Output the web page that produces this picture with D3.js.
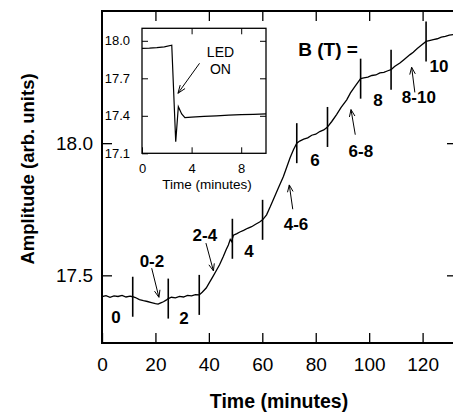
<!DOCTYPE html>
<meta charset="utf-8">
<script src="https://d3js.org/d3.v7.min.js"></script>
<style>
  body { margin: 0; background: #fff; font-family: "Liberation Sans", Arial, Helvetica, sans-serif; }
  svg { display: block; }
  .bold { font-weight: bold; }
</style>
<div id="chart"></div>
<script>

// main trace: time (minutes) and amplitude
var mainTime = [0,1.5,3,4.5,6,7.5,9,10.5,11.5,12.5,14,15.5,17,18.5,20,21,22,23,24,24.8,
  26,27.5,29,30.5,32,33.5,35,36.4,37.5,39,40.4,41.5,42.9,44,45.4,46.5,47.3,48.0,48.5,49.2,
  50.5,51.6,53,54.5,56,57.5,59,60.1,61.6,63,64.1,66,67.9,69,70.4,71.7,72.9,
  74,75.5,77,78.5,80,81.5,83,84.3,86,87.8,89.5,91.6,93,94.7,96.8,
  98,99.5,101,102.5,104,105.5,107,108.2,109.5,111.5,113,115.3,116.5,118,119.5,121.3,
  122.5,124,125.5,127,128.5,130,131.5,132.5]
var mainAmp = [17.419,17.423,17.417,17.422,17.420,17.424,17.418,17.421,17.419,17.416,17.408,17.404,17.401,17.397,17.393,17.391,17.396,17.400,17.406,17.412,
  17.417,17.415,17.420,17.418,17.424,17.422,17.427,17.426,17.436,17.452,17.476,17.495,17.520,17.540,17.571,17.598,17.615,17.636,17.628,17.652,
  17.658,17.664,17.670,17.678,17.684,17.693,17.702,17.710,17.729,17.760,17.786,17.830,17.874,17.905,17.945,17.976,18.000,
  18.008,18.015,18.020,18.030,18.034,18.044,18.050,18.060,18.082,18.108,18.135,18.164,18.190,18.215,18.244,
  18.247,18.250,18.256,18.258,18.266,18.268,18.274,18.278,18.290,18.303,18.316,18.335,18.344,18.358,18.370,18.385,
  18.388,18.392,18.395,18.401,18.404,18.409,18.411,18.413]

// times where the field was switched (vertical bars)
var markerTime = [11.5, 24.8, 36.4, 48.8, 60.1, 72.9, 84.4, 96.8, 108.2, 121.3]

// field labels
var fieldText = ["0","2","4","6","8","10"]
var fieldTime = [5.2, 30.7, 55.0, 79.7, 103.3, 126.1]
var fieldAmp = [17.320, 17.316, 17.571, 17.912, 18.142, 18.268]

// ramp labels and their arrows
var rampText = ["0-2","2-4","4-6","6-8","8-10"]
var rampTime = [18.7, 38.5, 72.6, 96.9, 118.6]
var rampAmp = [17.533, 17.631, 17.672, 17.947, 18.152]
var arrowFrom = [[18.6,17.527],[38.9,17.622],[71.4,17.750],[94.8,18.032],[117.1,18.192]]
var arrowTo = [[21.3,17.417],[41.7,17.517],[70.1,17.842],[93.2,18.127],[115.9,18.287]]

var xTicks = [0, 20, 40, 60, 80, 100, 120]
var yTicks = [17.5, 18.0]

// inset trace
var insetTime = [0,0.6,1.2,1.8,2.4,2.72,2.93,3.2,3.46,4,5,6,7,8,9,10]
var insetAmp = [17.940,17.942,17.946,17.952,17.965,17.193,17.473,17.415,17.385,17.390,17.395,17.400,17.405,17.410,17.412,17.415]
var insetXTicks = [0, 4, 8]
var insetYTicks = [17.1, 17.4, 17.7, 18.0]

var width = 453, height = 416

var svg = d3.select("#chart").append("svg")
  .attr("width", width)
  .attr("height", height)

var x = d3.scaleLinear().domain([0, 132.5]).range([102, 456])
var y = d3.scaleLinear().domain([17.244, 18.5]).range([343, 11])

// interpolate amplitude on the trace
function ampAt(t) {
  var i = d3.bisectRight(mainTime, t)
  if (i <= 0) return mainAmp[0]
  if (i >= mainTime.length) return mainAmp[mainAmp.length - 1]
  var f = (t - mainTime[i-1]) / (mainTime[i] - mainTime[i-1])
  return mainAmp[i-1] + f * (mainAmp[i] - mainAmp[i-1])
}

function arrow(g, x1, y1, x2, y2, len, half) {
  g.append("line")
    .attr("x1", x1).attr("y1", y1).attr("x2", x2).attr("y2", y2)
    .attr("stroke", "#000").attr("stroke-width", 1)
  var a = Math.atan2(y2 - y1, x2 - x1)
  var bx = x2 - len * Math.cos(a), by = y2 - len * Math.sin(a)
  var nx = -Math.sin(a) * half, ny = Math.cos(a) * half
  g.append("path")
    .attr("d", "M" + (bx + nx) + "," + (by + ny) + "L" + x2 + "," + y2 + "L" + (bx - nx) + "," + (by - ny))
    .attr("fill", "none").attr("stroke", "#000").attr("stroke-width", 1)
}

// axes
svg.append("g")
  .attr("transform", "translate(0,343)")
  .call(d3.axisBottom(x).tickValues(xTicks).tickSize(-10).tickPadding(15))
  .call(function(g){ g.select(".domain").remove() })
  .selectAll("text").style("font-size", "19px").attr("font-family", null)

svg.append("g")
  .attr("transform", "translate(0,11)")
  .call(d3.axisTop(x).tickValues(xTicks.slice(1)).tickSize(-10).tickFormat(""))
  .call(function(g){ g.select(".domain").remove() })

svg.append("g")
  .attr("transform", "translate(102,0)")
  .call(d3.axisLeft(y).tickValues(yTicks).tickSize(-10).tickPadding(9).tickFormat(d3.format(".1f")))
  .call(function(g){ g.select(".domain").remove() })
  .selectAll("text").style("font-size", "19px").attr("font-family", null)

svg.append("g")
  .attr("transform", "translate(456,0)")
  .call(d3.axisRight(y).tickValues(yTicks).tickSize(-9).tickFormat(""))
  .call(function(g){ g.select(".domain").remove() })

svg.selectAll(".tick line").attr("stroke-width", 1.3)

// frame
svg.append("path")
  .attr("d", "M" + x(132.5) + ",11H102V343H" + x(132.5))
  .attr("fill", "none").attr("stroke", "#000").attr("stroke-width", 2)

// axis titles
svg.append("text")
  .attr("class", "bold")
  .attr("x", 279).attr("y", 408)
  .attr("text-anchor", "middle")
  .style("font-size", "19.5px")
  .text("Time (minutes)")

svg.append("text")
  .attr("class", "bold")
  .attr("transform", "translate(33.5,169) rotate(-90)")
  .attr("text-anchor", "middle")
  .style("font-size", "18.5px")
  .text("Amplitude (arb. units)")

// main trace
var line = d3.line()
  .x(function(d){ return x(d[0]) })
  .y(function(d){ return y(d[1]) })

svg.append("path")
  .datum(d3.zip(mainTime, mainAmp))
  .attr("d", line)
  .attr("fill", "none").attr("stroke", "#000").attr("stroke-width", 1.3)

// field-switch markers
svg.selectAll(".marker")
  .data(markerTime)
  .enter().append("line")
  .attr("class", "marker")
  .attr("x1", function(d){ return x(d) })
  .attr("x2", function(d){ return x(d) })
  .attr("y1", function(d){ return y(ampAt(d)) - 20 })
  .attr("y2", function(d){ return y(ampAt(d)) + 20 })
  .attr("stroke", "#000").attr("stroke-width", 1.6)

// labels
svg.selectAll(".field")
  .data(fieldText)
  .enter().append("text")
  .attr("class", "field bold")
  .attr("x", function(d, i){ return x(fieldTime[i]) })
  .attr("y", function(d, i){ return y(fieldAmp[i]) })
  .attr("text-anchor", "middle")
  .style("font-size", "17px")
  .text(function(d){ return d })

svg.selectAll(".ramp")
  .data(rampText)
  .enter().append("text")
  .attr("class", "ramp bold")
  .attr("x", function(d, i){ return x(rampTime[i]) })
  .attr("y", function(d, i){ return y(rampAmp[i]) })
  .attr("text-anchor", "middle")
  .style("font-size", "17px")
  .text(function(d){ return d })

var arrows = svg.append("g")
arrowFrom.forEach(function(p, i){
  arrow(arrows, x(p[0]), y(p[1]), x(arrowTo[i][0]), y(arrowTo[i][1]), 7, 2.8)
})

svg.append("text")
  .attr("class", "bold")
  .attr("x", x(84.6)).attr("y", y(18.328))
  .attr("text-anchor", "middle")
  .style("font-size", "19px")
  .text("B (T) =")

// inset
var xi = d3.scaleLinear().domain([0, 10]).range([142, 266])
var yi = d3.scaleLinear().domain([17.1, 18.1]).range([153.3, 28.3])

var inset = svg.append("g")

inset.append("rect")
  .attr("x", 142).attr("y", 28.3)
  .attr("width", 124).attr("height", 125)
  .attr("fill", "#fff").attr("stroke", "#000").attr("stroke-width", 1.3)

inset.append("g")
  .attr("transform", "translate(0,153.3)")
  .call(d3.axisBottom(xi).tickValues(insetXTicks).tickSize(-6).tickPadding(10))
  .call(function(g){ g.select(".domain").remove() })
  .selectAll("text").style("font-size", "13px").attr("font-family", null)

inset.append("g")
  .attr("transform", "translate(0,28.3)")
  .call(d3.axisTop(xi).tickValues(insetXTicks.slice(1)).tickSize(-6).tickFormat(""))
  .call(function(g){ g.select(".domain").remove() })

inset.append("g")
  .attr("transform", "translate(142,0)")
  .call(d3.axisLeft(yi).tickValues(insetYTicks).tickSize(-6).tickPadding(12).tickFormat(d3.format(".1f")))
  .call(function(g){ g.select(".domain").remove() })
  .selectAll("text").style("font-size", "13px").attr("font-family", null)

inset.append("g")
  .attr("transform", "translate(266,0)")
  .call(d3.axisRight(yi).tickValues(insetYTicks.slice(1)).tickSize(-6).tickFormat(""))
  .call(function(g){ g.select(".domain").remove() })

inset.append("text")
  .attr("x", 207).attr("y", 189)
  .attr("text-anchor", "middle")
  .style("font-size", "13.5px")
  .text("Time (minutes)")

var lineInset = d3.line()
  .x(function(d){ return xi(d[0]) })
  .y(function(d){ return yi(d[1]) })

inset.append("path")
  .datum(d3.zip(insetTime, insetAmp))
  .attr("d", lineInset)
  .attr("fill", "none").attr("stroke", "#000").attr("stroke-width", 1.2)

inset.append("text")
  .attr("x", xi(6.33)).attr("y", yi(17.873))
  .attr("text-anchor", "middle")
  .style("font-size", "14px")
  .text("LED")
inset.append("text")
  .attr("x", xi(6.33)).attr("y", yi(17.734))
  .attr("text-anchor", "middle")
  .style("font-size", "14px")
  .text("ON")

arrow(inset, xi(4.64), yi(17.82), xi(2.9), yi(17.58), 8, 3)

</script>
